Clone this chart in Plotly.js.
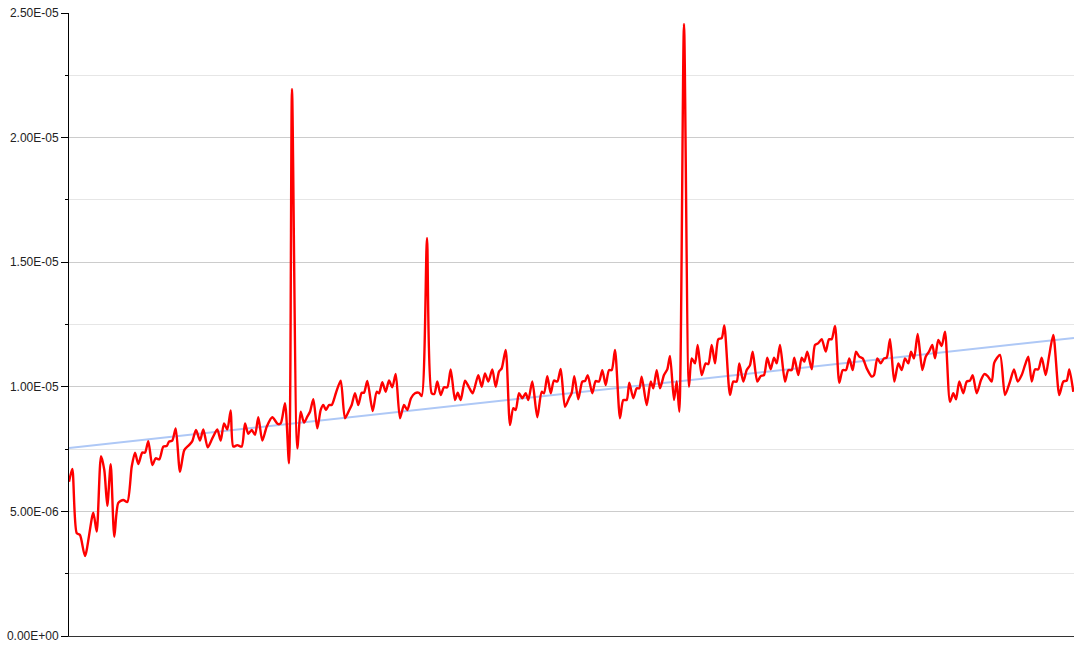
<!DOCTYPE html>
<html>
<head>
<meta charset="utf-8">
<script src="https://cdn.plot.ly/plotly-3.0.1.min.js"></script>
<style>html,body{margin:0;padding:0;background:#fff;}#chart{width:1085px;height:652px;}</style>
</head>
<body>
<div id="chart"></div>
<script>
// sample positions (arbitrary units along an unlabeled x axis)
var position = [
0,3.3,7.7,11,16,24.3,27.7,32,35.3,38.3,41.7,45.3,49.3,54.3,58.3,62.7,66,69.3,73.3,76,
79.3,83.3,86.7,90.3,94.3,97.7,100,103.3,106.7,111,115.3,120,123.3,127,131,134.3,138.7,143.3,148.3,151.7,
155,158.3,161.7,
164.3,168.3,172.7,176,179.3,182.7,186,189.3,193.3,197.7,203.3,208.7,211.7,216,220,223,228.3,231.7,235,238.3,
241,244.3,248.3,251.7,254.3,257,260,262.7,267,271.7,276,280.3,282.7,286,289.3,292.7,295,298.3,303.7,307.7,
310,313.3,316.7,320,323.3,326.7,
331,335,338.3,342,346,350,352.7,358,362.7,365.3,368.3,371.7,375,378.3,381.7,386,388.7,391.7,396,400,
403.7,409.3,412.7,416,419.3,423.3,426.7,430,432.7,436.7,441,444.3,446.7,450,453.3,456.7,459.3,463.3,468.3,472.7,
475,478.3,481.7,485,488.3,491.7,
496,500,502.7,505.3,509.3,513.3,516,518.7,523.3,526.7,530,533.3,536.7,540,542.7,546,551,554.3,557.7,560.3,
564.3,567.7,570.3,572.7,577.7,581.7,584.3,587.7,591,595,598.3,601,605,607.7,610.3,615,620,622.7,626,628.7,
632.7,636.7,639.3,642.7,646,649.3,652.7,655.3,
661,664.3,667.7,670.3,674.3,677.7,681,683.7,688.3,691.7,695,698.3,701.7,705,707.7,711,716,719.3,722.7,725.3,
729.3,732.7,735.3,738.3,742.7,746,749.3,752.7,756.7,760,762.7,766,770.3,773.7,777,780.3,783.7,787,790.3,793.7,
797.7,802.7,805,808.3,811.7,815,817.7,821,825.3,
829.3,832.7,836,839.3,842,845,848.7,853.3,856.7,860,863.3,866,869.3,872.7,876,881,884.3,887,890.3,894.3,
897.7,901,903.7,907.7,912,915.3,918.7,922.7,925.3,931,936,941,945,948.7,952.7,956,959.3,962.7,966,969.3,
972.7,976.7,980,984.3,990.3,994.3,997.7,1000.3,1004.3
];
// values in units of 1E-06
var value = [
6.19,6.70,4.13,4.05,3.21,4.95,4.19,7.22,6.66,5.22,6.89,3.98,5.34,5.46,5.38,6.79,7.36,6.90,7.36,7.36,
7.82,6.86,7.13,7.09,7.60,7.62,7.80,7.84,8.33,6.59,7.46,7.66,7.82,8.27,7.84,8.29,7.57,7.93,8.29,7.84,
8.53,8.29,9.05,
7.60,7.66,7.60,8.53,8.11,8.27,8.07,8.78,7.84,8.40,8.78,8.51,8.53,9.34,6.93,21.95,7.53,9.00,8.56,8.80,
9.00,9.50,8.33,9.07,9.27,9.07,9.27,9.27,9.76,10.25,8.74,9.07,9.27,9.74,9.27,9.76,9.76,10.23,9.03,9.80,
9.74,10.18,9.80,10.25,9.98,10.52,
8.74,9.27,9.07,9.54,9.74,9.76,9.63,15.97,9.74,9.71,10.21,9.67,9.98,9.98,10.70,9.47,9.76,9.47,10.25,9.98,
9.74,10.47,10.00,10.54,10.21,10.70,10.00,10.61,10.74,11.48,8.47,9.14,9.07,9.74,9.54,9.74,9.47,10.21,8.78,9.80,
9.74,10.43,9.74,10.25,10.21,10.72,
9.20,9.54,9.76,10.43,9.50,10.21,10.23,10.47,9.74,10.23,10.21,10.67,10.07,10.67,10.67,11.48,8.74,9.47,9.47,10.16,
9.54,9.94,9.94,10.41,9.27,10.21,9.94,10.67,9.94,10.47,10.70,11.24,9.47,10.21,9.00,24.56,10.00,11.14,10.94,11.68,
10.47,10.94,10.91,11.68,10.94,11.91,11.95,12.46,
9.67,10.21,10.21,10.94,10.21,10.67,10.87,11.41,10.21,10.43,10.47,11.17,10.70,11.17,10.94,11.68,10.21,10.67,10.67,11.17,
10.47,11.17,11.01,11.41,10.70,11.68,11.75,11.91,11.41,11.91,11.91,12.44,10.16,10.67,10.67,11.14,10.67,11.41,11.21,11.14,
10.74,10.41,10.47,11.14,10.94,11.14,11.17,11.91,10.21,
10.94,10.67,11.14,10.94,11.41,11.14,12.12,10.67,11.21,11.41,11.68,11.14,11.88,11.64,12.21,9.40,9.74,9.50,10.21,9.74,
10.21,10.25,10.47,9.74,10.27,10.51,10.43,10.21,10.97,11.28,9.67,10.21,10.70,10.21,10.47,10.87,11.21,10.21,10.70,10.70,
11.17,10.47,11.21,12.08,9.67,10.21,10.25,10.70,9.80
];
// linear trend line end points (units of 1E-06)
var trendPosition = [0, 1005];
var trendValue = [7.54, 11.96];

var tickValues = [0, 5, 10, 15, 20, 25];
var tickLabels = ["0.00E+00", "5.00E-06", "1.00E-05", "1.50E-05", "2.00E-05", "2.50E-05"];

var traces = [
  {x: trendPosition, y: trendValue, type: 'scatter', mode: 'lines',
   line: {color: '#aec8f6', width: 2}, hoverinfo: 'skip', showlegend: false},
  {x: position, y: value, type: 'scatter', mode: 'lines',
   line: {color: '#ff0000', width: 2.4, shape: 'spline', smoothing: 0.7}, showlegend: false}
];

var layout = {
  width: 1085, height: 652,
  margin: {l: 69, r: 11, t: 13, b: 16, pad: 0},
  paper_bgcolor: '#ffffff', plot_bgcolor: '#ffffff',
  font: {family: 'Liberation Sans, Arial, sans-serif', size: 12, color: '#222222'},
  showlegend: false,
  xaxis: {
    range: [0, 1005], showgrid: false, zeroline: false, showticklabels: false,
    ticks: '', showline: true, linecolor: '#333333', linewidth: 1, fixedrange: true
  },
  yaxis: {
    range: [0, 25], tickmode: 'array', tickvals: tickValues, ticktext: tickLabels,
    showgrid: true, gridcolor: '#cccccc', gridwidth: 1, zeroline: false,
    showline: true, linecolor: '#000000', linewidth: 1,
    ticks: 'outside', ticklen: 7, tickcolor: '#000000', tickwidth: 1,
    tickfont: {size: 12, color: '#222222'},
    minor: {dtick: 2.5, tick0: 0, ticks: 'outside', ticklen: 3, tickcolor: '#000000',
            showgrid: true, gridcolor: '#e6e6e6', gridwidth: 1},
    fixedrange: true
  }
};

Plotly.newPlot('chart', traces, layout, {staticPlot: true, displayModeBar: false});
</script>
</body>
</html>
